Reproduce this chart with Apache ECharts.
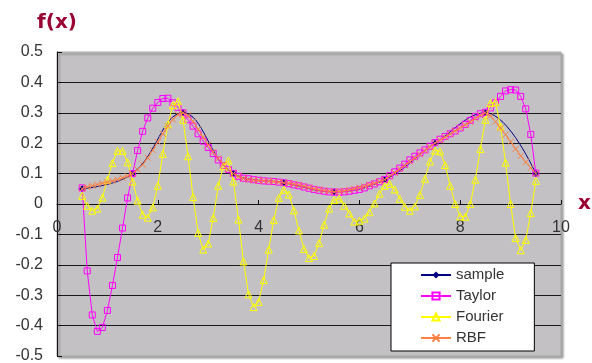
<!DOCTYPE html>
<html>
<head>
<meta charset="utf-8">
<script src="https://cdn.jsdelivr.net/npm/echarts@6/dist/echarts.min.js"></script>
<style>
  html, body { margin: 0; padding: 0; background: #fff; }
  #chart { width: 592px; height: 363px; }
</style>
</head>
<body>
<div id="chart"></div>
<script>
// sample points
const sampleX = [0.5, 1.5, 2.5, 3.5, 4.5, 5.5, 6.5, 7.5, 8.5, 9.5];
const sampleY = [0.05, 0.1, 0.3, 0.1, 0.07, 0.04, 0.08, 0.2, 0.3, 0.1];

// dense evaluation points shared by the three approximations
const denseX = [
  0.5, 0.6, 0.7, 0.8, 0.9, 1.0, 1.1, 1.2, 1.3, 1.4,
  1.5, 1.6, 1.7, 1.8, 1.9, 2.0, 2.1, 2.2, 2.3, 2.4,
  2.5, 2.6, 2.7, 2.8, 2.9, 3.0, 3.1, 3.2, 3.3, 3.4,
  3.5, 3.6, 3.7, 3.8, 3.9, 4.0, 4.1, 4.2, 4.3, 4.4,
  4.5, 4.6, 4.7, 4.8, 4.9, 5.0, 5.1, 5.2, 5.3, 5.4,
  5.5, 5.6, 5.7, 5.8, 5.9, 6.0, 6.1, 6.2, 6.3, 6.4,
  6.5, 6.6, 6.7, 6.8, 6.9, 7.0, 7.1, 7.2, 7.3, 7.4,
  7.5, 7.6, 7.7, 7.8, 7.9, 8.0, 8.1, 8.2, 8.3, 8.4,
  8.5, 8.6, 8.7, 8.8, 8.9, 9.0, 9.1, 9.2, 9.3, 9.4,
  9.5
];

const taylorY = [
  0.053, -0.22, -0.365, -0.419, -0.406, -0.35, -0.268, -0.176, -0.079, 0.02,
  0.1, 0.176, 0.239, 0.283, 0.315, 0.334, 0.347, 0.348, 0.333, 0.318,
  0.3, 0.277, 0.256, 0.231, 0.207, 0.186, 0.166, 0.145, 0.126, 0.113,
  0.101, 0.091, 0.085, 0.083, 0.08, 0.078, 0.076, 0.075, 0.074, 0.072,
  0.07, 0.067, 0.063, 0.06, 0.056, 0.052, 0.048, 0.045, 0.042, 0.04,
  0.039, 0.039, 0.04, 0.042, 0.045, 0.048, 0.053, 0.06, 0.066, 0.073,
  0.081, 0.093, 0.106, 0.118, 0.131, 0.145, 0.157, 0.168, 0.178, 0.19,
  0.202, 0.213, 0.222, 0.231, 0.24, 0.25, 0.262, 0.275, 0.288, 0.297,
  0.302, 0.316, 0.333, 0.354, 0.372, 0.376, 0.375, 0.354, 0.313, 0.229,
  0.102
];

const fourierY = [
  0.027, -0.006, -0.022, -0.015, 0.021, 0.08, 0.135, 0.175, 0.175, 0.137,
  0.074, 0.011, -0.035, -0.045, -0.011, 0.06, 0.165, 0.262, 0.325, 0.338,
  0.277, 0.157, 0.023, -0.095, -0.15, -0.13, -0.046, 0.06, 0.124, 0.143,
  0.074, -0.051, -0.189, -0.297, -0.339, -0.322, -0.25, -0.15, -0.053, 0.02,
  0.047, 0.031, -0.021, -0.087, -0.148, -0.178, -0.171, -0.128, -0.068, -0.015,
  0.013, 0.018, -0.006, -0.031, -0.058, -0.055, -0.048, -0.027, 0.002, 0.034,
  0.06, 0.066, 0.048, 0.017, -0.009, -0.022, -0.008, 0.03, 0.083, 0.14,
  0.176, 0.173, 0.128, 0.06, 0.0, -0.041, -0.042, 0.0, 0.08, 0.181,
  0.277, 0.332, 0.335, 0.255, 0.136, 0.0, -0.112, -0.152, -0.118, -0.03,
  0.076
];

const rbfY = [
  0.05, 0.056, 0.06, 0.064, 0.068, 0.072, 0.076, 0.081, 0.086, 0.092,
  0.1, 0.113, 0.13, 0.152, 0.177, 0.204, 0.231, 0.256, 0.278, 0.294,
  0.3, 0.291, 0.271, 0.246, 0.22, 0.195, 0.171, 0.15, 0.13, 0.113,
  0.1, 0.09, 0.084, 0.08, 0.078, 0.077, 0.076, 0.075, 0.074, 0.072,
  0.07, 0.068, 0.065, 0.062, 0.058, 0.054, 0.05, 0.047, 0.044, 0.042,
  0.04, 0.041, 0.043, 0.046, 0.05, 0.054, 0.058, 0.063, 0.068, 0.074,
  0.08, 0.091, 0.103, 0.115, 0.127, 0.139, 0.151, 0.163, 0.176, 0.188,
  0.2, 0.21, 0.22, 0.23, 0.24, 0.25, 0.26, 0.27, 0.281, 0.292,
  0.3, 0.29, 0.271, 0.25, 0.228, 0.205, 0.181, 0.158, 0.138, 0.119,
  0.1
];

const pairs = (xs, ys) => xs.map((x, i) => [x, ys[i]]);

const labelFont = 'Liberation Sans, Arial, sans-serif';
const titleColor = '#990033';

const chart = echarts.init(document.getElementById('chart'), null, { renderer: 'canvas' });

chart.setOption({
  animation: false,
  backgroundColor: '#ffffff',
  grid: {
    left: 57,
    top: 52,
    width: 504,
    height: 304,
    outerBoundsMode: 'none',
    containLabel: false,
    show: true,
    backgroundColor: '#c3c1c3',
    borderColor: '#a8a8a8',
    borderWidth: 1,
    shadowColor: 'rgba(0,0,0,0.35)',
    shadowBlur: 2,
    shadowOffsetX: 2,
    shadowOffsetY: 2
  },
  legend: {
    orient: 'vertical',
    left: 391,
    top: 263,
    padding: [4, 30, 5, 29],
    itemGap: 5,
    itemWidth: 30,
    itemHeight: 9,
    backgroundColor: '#ffffff',
    borderColor: '#000000',
    borderWidth: 1,
    borderRadius: 0,
    textStyle: { fontFamily: labelFont, fontSize: 15, color: '#333333', lineHeight: 16 },
    data: ['sample', 'Taylor', 'Fourier', 'RBF']
  },
  xAxis: {
    type: 'value',
    position: 'bottom',
    // axis crosses at y = 0 (the middle of the plot)
    offset: -152,
    min: 0,
    max: 10,
    interval: 2,
    name: 'x',
    nameLocation: 'end',
    nameGap: 17,
    nameTextStyle: { fontFamily: 'DejaVu Sans', fontWeight: 'bold', fontSize: 20, color: titleColor, padding: [4, 0, 0, 0] },
    axisLine: { onZero: false, lineStyle: { color: '#111111', width: 1 } },
    axisTick: { show: true, inside: true, length: 4, lineStyle: { color: '#111111' } },
    axisLabel: { fontFamily: labelFont, fontSize: 16, color: '#333333', margin: 16 },
    splitLine: { show: false }
  },
  yAxis: {
    type: 'value',
    min: -0.5,
    max: 0.5,
    interval: 0.1,
    name: 'f(x)',
    nameLocation: 'end',
    nameGap: 19,
    nameTextStyle: { fontFamily: 'DejaVu Sans', fontWeight: 'bold', fontSize: 20, color: titleColor, align: 'center' },
    axisLine: { show: true, onZero: false, lineStyle: { color: '#111111', width: 1 } },
    axisTick: { show: true, inside: true, length: 5, lineStyle: { color: '#111111' } },
    axisLabel: { fontFamily: labelFont, fontSize: 16, color: '#333333', margin: 14 },
    splitLine: {
      show: true,
      showMinLine: false,
      showMaxLine: false,
      lineStyle: { color: '#1a1a1a', width: 1 }
    }
  },
  series: [
    {
      name: 'sample',
      type: 'line',
      data: pairs(sampleX, sampleY),
      smooth: 0.4,
      symbol: 'diamond',
      symbolSize: 7,
      itemStyle: { color: '#000080' },
      lineStyle: { color: '#000080', width: 1 },
      z: 2
    },
    {
      name: 'Taylor',
      type: 'line',
      data: pairs(denseX, taylorY),
      symbol: 'rect',
      symbolSize: 6,
      itemStyle: { color: 'rgba(0,0,0,0)', borderColor: '#ff00ff', borderWidth: 1 },
      lineStyle: { color: '#ff00ff', width: 1 },
      z: 3
    },
    {
      name: 'Fourier',
      type: 'line',
      data: pairs(denseX, fourierY),
      symbol: 'triangle',
      symbolSize: 7,
      itemStyle: { color: 'rgba(0,0,0,0)', borderColor: '#ffff00', borderWidth: 1 },
      lineStyle: { color: '#ffff00', width: 1 },
      z: 4
    },
    {
      name: 'RBF',
      type: 'line',
      data: pairs(denseX, rbfY),
      symbol: 'path://M0,0L10,10M10,0L0,10',
      symbolSize: 6,
      itemStyle: { color: 'rgba(0,0,0,0)', borderColor: '#ff8040', borderWidth: 1 },
      lineStyle: { color: '#ff8040', width: 1 },
      z: 5
    }
  ]
});
</script>
</body>
</html>
